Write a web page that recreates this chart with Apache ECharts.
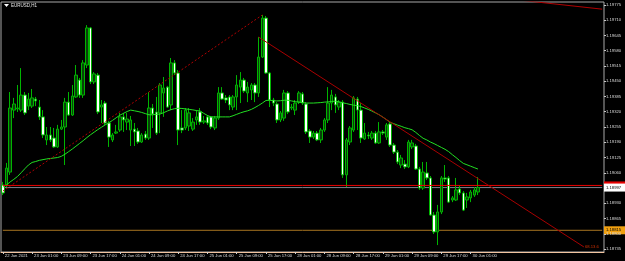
<!DOCTYPE html>
<html>
<head>
<meta charset="utf-8">
<script src="https://cdn.jsdelivr.net/npm/echarts@6/dist/echarts.min.js"></script>
<style>
html,body{margin:0;padding:0;background:#000;}
#c{width:625px;height:261px;}
</style>
</head>
<body>
<div id="c"></div>
<script>
// ---- data (EURUSD H1, 22 Jun 2021 17:00 .. 30 Jun 2021 03:00) ----
const symbolTitle = "EURUSD,H1";
const tickLabels = ["22 Jun 2021","23 Jun 01:00","23 Jun 09:00","23 Jun 17:00","24 Jun 01:00","24 Jun 09:00","24 Jun 17:00","25 Jun 01:00","25 Jun 09:00","25 Jun 17:00","28 Jun 01:00","28 Jun 09:00","28 Jun 17:00","29 Jun 01:00","29 Jun 09:00","29 Jun 17:00","30 Jun 01:00"];
const priceTicks = [1.19775,1.19710,1.19645,1.19580,1.19515,1.19450,1.19385,1.19320,1.19255,1.19190,1.19125,1.19060,1.18930,1.18865,1.18800,1.18735];

const opens = [1.19008,1.19008,1.19063,1.19327,1.19332,1.19327,1.19391,1.19344,1.19344,1.19374,
1.19340,1.19298,1.19200,1.19221,1.19208,1.19170,1.19246,1.19255,1.19361,1.19306,
1.19383,1.19455,1.19391,1.19519,1.19677,1.19447,1.19476,1.19340,1.19357,1.19272,
1.19200,1.19229,1.19242,1.19298,1.19276,1.19242,1.19246,1.19238,1.19191,1.19225,
1.19208,1.19336,1.19319,1.19315,1.19400,1.19425,1.19349,1.19528,1.19485,1.19251,
1.19251,1.19259,1.19246,1.19285,1.19319,1.19276,1.19298,1.19298,1.19251,1.19293,
1.19400,1.19379,1.19383,1.19340,1.19383,1.19425,1.19455,1.19400,1.19413,1.19434,
1.19400,1.19553,1.19719,1.19485,1.19370,1.19353,1.19285,1.19293,1.19400,1.19336,
1.19327,1.19361,1.19396,1.19353,1.19238,1.19212,1.19229,1.19200,1.19242,1.19285,
1.19357,1.19383,1.19340,1.19361,1.19051,1.19191,1.19242,1.19374,1.19327,1.19204,
1.19221,1.19208,1.19229,1.19187,1.19234,1.19212,1.19268,1.19178,1.19148,1.19093,
1.19097,1.19085,1.19170,1.19174,1.19076,1.18995,1.19059,1.19038,1.18880,1.18808,
1.18893,1.19038,1.19038,1.18944,1.18944,1.18991,1.18974,1.18944,1.18953,1.18965,
1.18978];
const highs = [1.19021,1.19102,1.19404,1.19379,1.19434,1.19506,1.19404,1.19400,1.19417,1.19383,
1.19370,1.19327,1.19255,1.19255,1.19251,1.19264,1.19285,1.19379,1.19404,1.19434,
1.19519,1.19464,1.19540,1.19689,1.19681,1.19489,1.19485,1.19370,1.19366,1.19281,
1.19229,1.19264,1.19315,1.19315,1.19315,1.19302,1.19272,1.19251,1.19229,1.19238,
1.19404,1.19353,1.19383,1.19442,1.19468,1.19430,1.19549,1.19540,1.19498,1.19327,
1.19336,1.19336,1.19293,1.19327,1.19336,1.19302,1.19306,1.19302,1.19302,1.19425,
1.19425,1.19391,1.19391,1.19391,1.19476,1.19489,1.19464,1.19447,1.19442,1.19442,
1.19638,1.19732,1.19728,1.19489,1.19379,1.19361,1.19323,1.19413,1.19408,1.19353,
1.19370,1.19408,1.19404,1.19361,1.19246,1.19238,1.19238,1.19251,1.19293,1.19425,
1.19413,1.19396,1.19370,1.19370,1.19208,1.19259,1.19387,1.19383,1.19357,1.19272,
1.19234,1.19238,1.19238,1.19276,1.19242,1.19272,1.19276,1.19187,1.19157,1.19136,
1.19114,1.19200,1.19200,1.19183,1.19085,1.19106,1.19106,1.19046,1.18893,1.18923,
1.19046,1.19093,1.19046,1.18961,1.19038,1.19004,1.18982,1.18974,1.18987,1.18999,
1.19042];
const lows = [1.18965,1.18999,1.19051,1.19293,1.19319,1.19319,1.19306,1.19327,1.19336,1.19344,
1.19285,1.19208,1.19178,1.19191,1.19166,1.19166,1.19242,1.19093,1.19302,1.19302,
1.19379,1.19379,1.19379,1.19506,1.19438,1.19438,1.19310,1.19272,1.19264,1.19170,
1.19191,1.19225,1.19234,1.19234,1.19242,1.19174,1.19174,1.19183,1.19187,1.19200,
1.19200,1.19251,1.19221,1.19229,1.19298,1.19336,1.19327,1.19476,1.19178,1.19229,
1.19242,1.19238,1.19238,1.19264,1.19264,1.19268,1.19264,1.19246,1.19242,1.19285,
1.19370,1.19357,1.19327,1.19327,1.19327,1.19357,1.19400,1.19361,1.19370,1.19361,
1.19383,1.19549,1.19481,1.19340,1.19344,1.19272,1.19276,1.19281,1.19310,1.19327,
1.19306,1.19353,1.19349,1.19225,1.19187,1.19204,1.19195,1.19187,1.19234,1.19272,
1.19327,1.19315,1.19327,1.19038,1.18999,1.19178,1.19234,1.19242,1.19187,1.19200,
1.19204,1.19200,1.19183,1.19183,1.19221,1.19200,1.19170,1.19140,1.19097,1.19080,
1.19076,1.19080,1.19161,1.19072,1.18987,1.18987,1.19029,1.18876,1.18799,1.18752,
1.18884,1.19021,1.18931,1.18935,1.18940,1.18965,1.18897,1.18910,1.18935,1.18957,
1.18965];
const closes = [1.18974,1.19080,1.19336,1.19353,1.19336,1.19391,1.19315,1.19374,1.19379,1.19366,
1.19298,1.19221,1.19221,1.19200,1.19170,1.19246,1.19255,1.19361,1.19306,1.19387,
1.19476,1.19391,1.19528,1.19677,1.19447,1.19481,1.19319,1.19349,1.19272,1.19212,
1.19221,1.19234,1.19298,1.19285,1.19289,1.19285,1.19234,1.19191,1.19221,1.19208,
1.19336,1.19310,1.19229,1.19434,1.19421,1.19340,1.19528,1.19485,1.19242,1.19242,
1.19327,1.19315,1.19276,1.19298,1.19276,1.19281,1.19272,1.19255,1.19293,1.19400,
1.19374,1.19370,1.19349,1.19383,1.19434,1.19455,1.19408,1.19425,1.19434,1.19400,
1.19553,1.19719,1.19485,1.19370,1.19357,1.19285,1.19315,1.19400,1.19319,1.19340,
1.19357,1.19400,1.19357,1.19234,1.19212,1.19229,1.19200,1.19242,1.19285,1.19357,
1.19391,1.19349,1.19361,1.19051,1.19200,1.19251,1.19379,1.19327,1.19208,1.19229,
1.19217,1.19229,1.19187,1.19234,1.19229,1.19264,1.19178,1.19148,1.19106,1.19123,
1.19085,1.19191,1.19187,1.19076,1.18995,1.19063,1.19038,1.18880,1.18808,1.18893,
1.19038,1.19033,1.18935,1.18953,1.18987,1.18974,1.18901,1.18957,1.18978,1.18987,
1.18997];
const maValues = [1.18999,1.19008,1.19021,1.19032,1.19044,1.19060,1.19077,1.19093,1.19104,1.19108,
1.19113,1.19116,1.19119,1.19121,1.19123,1.19125,1.19130,1.19139,1.19150,1.19161,
1.19173,1.19185,1.19197,1.19210,1.19222,1.19233,1.19244,1.19254,1.19264,1.19273,
1.19283,1.19294,1.19305,1.19313,1.19321,1.19327,1.19324,1.19321,1.19317,1.19312,
1.19307,1.19307,1.19309,1.19310,1.19316,1.19323,1.19329,1.19333,1.19335,1.19334,
1.19332,1.19330,1.19328,1.19325,1.19323,1.19313,1.19304,1.19298,1.19298,1.19298,
1.19298,1.19298,1.19298,1.19303,1.19309,1.19315,1.19320,1.19324,1.19330,1.19338,
1.19347,1.19357,1.19368,1.19369,1.19367,1.19366,1.19367,1.19369,1.19369,1.19366,
1.19363,1.19361,1.19359,1.19357,1.19357,1.19357,1.19358,1.19359,1.19361,1.19362,
1.19364,1.19365,1.19362,1.19358,1.19355,1.19351,1.19348,1.19346,1.19342,1.19336,
1.19330,1.19323,1.19315,1.19307,1.19297,1.19286,1.19275,1.19269,1.19263,1.19258,
1.19252,1.19248,1.19243,1.19232,1.19219,1.19207,1.19200,1.19191,1.19184,1.19176,
1.19168,1.19160,1.19150,1.19137,1.19125,1.19112,1.19100,1.19094,1.19088,1.19082,
1.19076];

// drawn objects, as [bar index, price]
const risingDotted = [[0, 1.18982], [71, 1.19732]];
const fallingLine = [[70, 1.19638], [159, 1.18744]];
const topRightLine = [[130, 1.19815], [164, 1.19757]];
const fallingLineText = "68.13.6";
const redLevel = 1.19006;
const bidLevel = 1.18997;
const orangeLevel = 1.18815;
const totalSlots = 165;

// ---- chart ----
const categories = Array.from({length: totalSlots}, (_, i) => String(i));
const candles = opens.map((o, i) => [o, closes[i], lows[i], highs[i]]);
const showTick = (idx) => idx % 8 === 0 && idx / 8 < tickLabels.length;
const FONT = "'Liberation Sans',Arial,sans-serif";
const FS = 4.2;
const lastSlot = totalSlots - 1;
const levelSeries = (lvl, color, z) => ({type: 'line', data: [[0, lvl], [lastSlot, lvl]], showSymbol: false, symbol: 'none',
  silent: true, lineStyle: {color: color, width: 1, type: 'solid'}, z: z});

const chart = echarts.init(document.getElementById('c'), null, {renderer: 'canvas'});
chart.setOption({
  backgroundColor: '#000',
  animation: false,
  grid: {left: 1, right: 21, top: 2, bottom: 9, show: true, borderColor: '#a8a8a8', borderWidth: 1, backgroundColor: '#000'},
  xAxis: {
    type: 'category', data: categories, boundaryGap: true,
    axisLine: {show: true, lineStyle: {color: '#f2c4a0', width: 1}},
    axisTick: {show: true, interval: (idx) => showTick(idx), alignWithLabel: true, length: 2, lineStyle: {color: '#d0d0d0'}},
    axisLabel: {
      interval: (idx) => showTick(idx),
      formatter: (v, idx) => tickLabels[idx / 8] || '',
      fontSize: FS, fontFamily: FONT, color: '#dcdcdc', align: 'left', margin: 2, padding: [0, 0, 0, 2]
    },
    splitLine: {show: false}
  },
  yAxis: {
    type: 'value', position: 'right', min: 1.187225, max: 1.197875,
    axisLine: {show: false},
    axisTick: {show: true, customValues: priceTicks, length: 2, lineStyle: {color: '#c8c8c8'}},
    axisLabel: {customValues: priceTicks, formatter: (v) => v.toFixed(5), fontSize: FS, fontFamily: FONT, color: '#dcdcdc', margin: 2},
    splitLine: {show: false}
  },
  series: [
    levelSeries(bidLevel, '#7c828e', 1),
    levelSeries(orangeLevel, '#a87420', 1),
    {
      type: 'candlestick', data: candles, barWidth: 3, z: 2,
      itemStyle: {color: '#0a3f0a', color0: '#ffffff', borderColor: '#00b400', borderColor0: '#00b400', borderWidth: 1}
    },
    {type: 'line', data: maValues, showSymbol: false, symbol: 'none', lineStyle: {color: '#22e022', width: 1}, z: 3},
    levelSeries(redLevel, '#e80000', 4),
    {type: 'line', data: risingDotted, showSymbol: false, symbol: 'none', clip: true, lineStyle: {color: '#b00000', width: 1, type: [2, 2]}, z: 4},
    {type: 'line', data: fallingLine, showSymbol: false, symbol: 'none', clip: false, lineStyle: {color: '#a80000', width: 1}, z: 4,
     endLabel: {show: true, formatter: fallingLineText, color: '#d03000', fontSize: FS, fontFamily: FONT, distance: 1}},
    {type: 'line', data: topRightLine, showSymbol: false, symbol: 'none', clip: true, lineStyle: {color: '#b00000', width: 1}, z: 4}
  ]
});

// price boxes on the right scale, placed through the y axis scale
const boxLeft = 604;
const priceBox = (lvl, bg, fg) => {
  const y = chart.convertToPixel({yAxisIndex: 0}, lvl);
  return {type: 'group', children: [
    {type: 'rect', shape: {x: boxLeft, y: y - 4, width: 21, height: 8}, style: {fill: bg}},
    {type: 'text', x: boxLeft + 2, y: y, style: {text: lvl.toFixed(5), fill: fg, fontSize: FS, fontFamily: FONT, verticalAlign: 'middle'}}
  ]};
};
chart.setOption({
  graphic: [
    priceBox(redLevel, '#e80000', '#ffffff'),
    priceBox(bidLevel, '#ffffff', '#000000'),
    priceBox(orangeLevel, '#f0a010', '#000000'),
    {type: 'polygon', shape: {points: [[4, 4], [9, 4], [6.5, 7]]}, style: {fill: '#ffffff'}},
    {type: 'text', left: 11, top: 3, style: {text: symbolTitle, fill: '#e6e6e6', fontSize: 4.5, fontFamily: FONT}}
  ]
});
</script>
</body>
</html>
